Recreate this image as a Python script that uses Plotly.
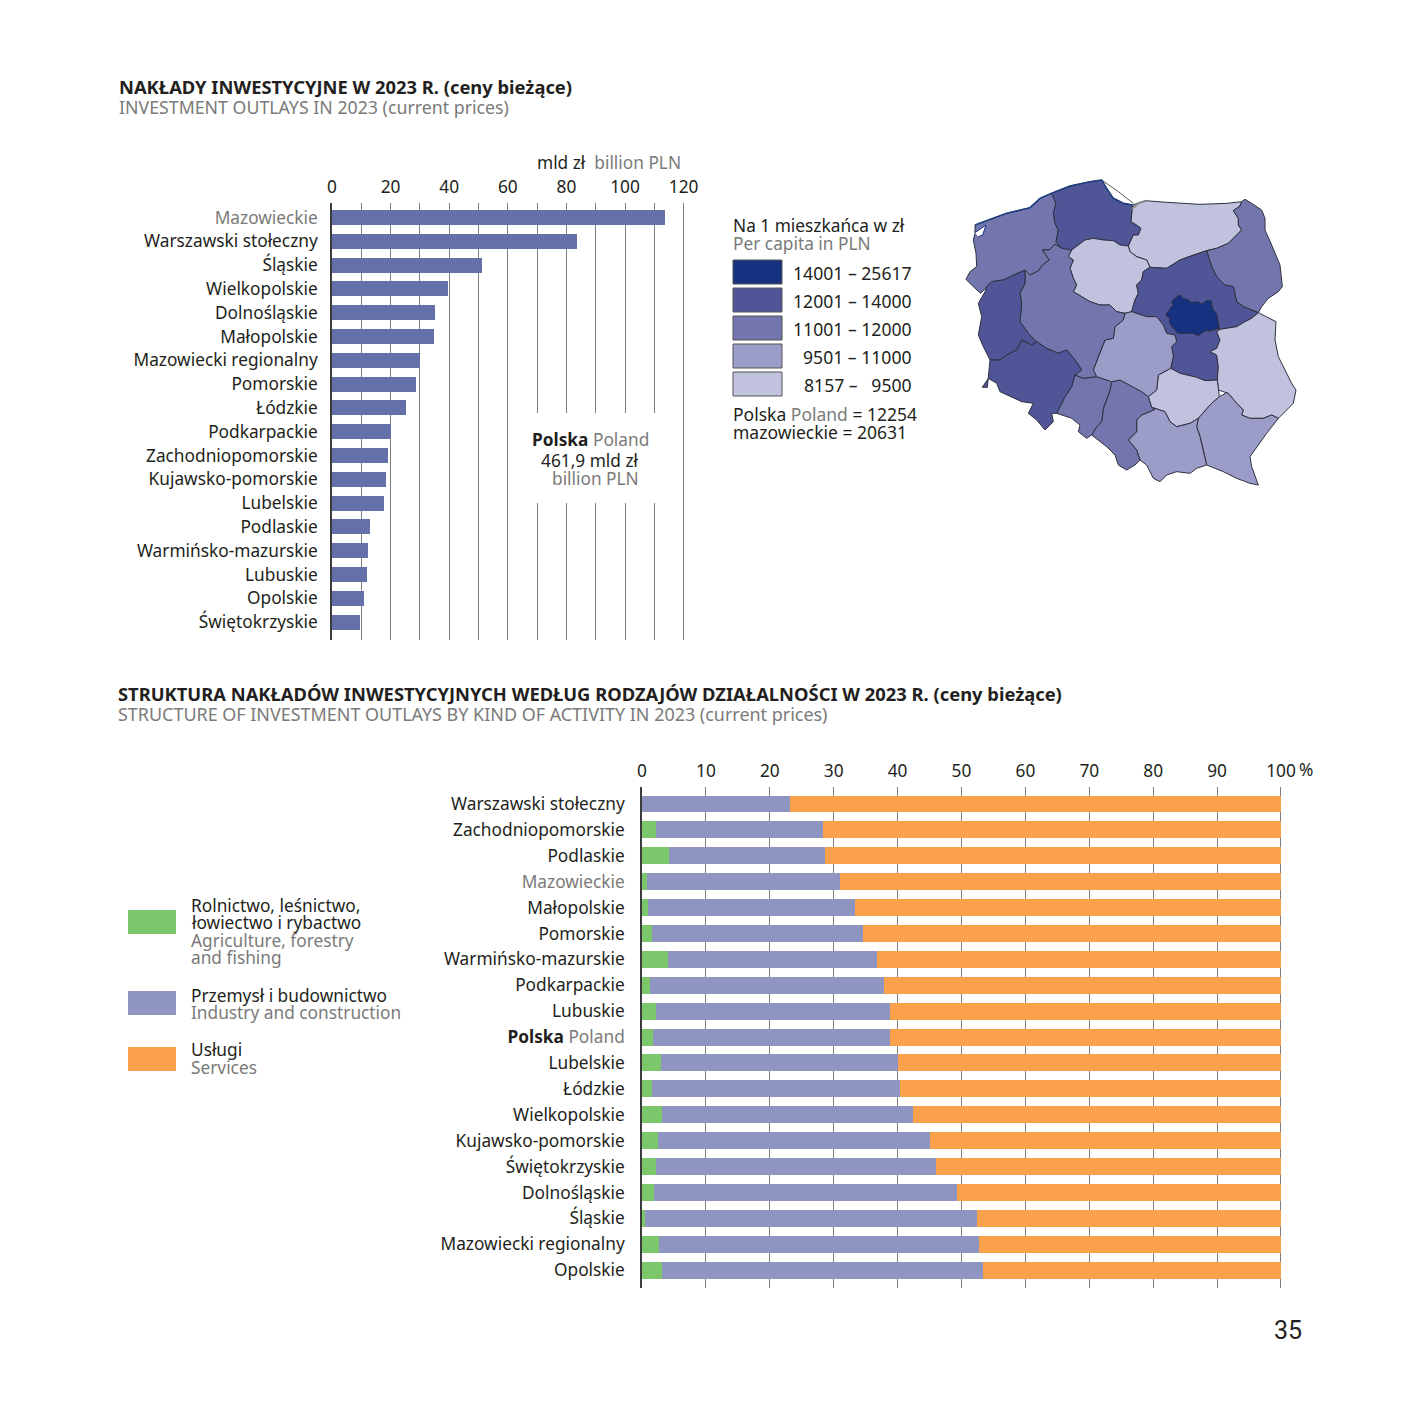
import plotly.graph_objects as go

# ---------- chart 1 data ----------
outlay_regions = ["Mazowieckie", "Warszawski stołeczny", "Śląskie", "Wielkopolskie", "Dolnośląskie", "Małopolskie",
                  "Mazowiecki regionalny", "Pomorskie", "Łódzkie", "Podkarpackie", "Zachodniopomorskie",
                  "Kujawsko-pomorskie", "Lubelskie", "Podlaskie", "Warmińsko-mazurskie", "Lubuskie", "Opolskie",
                  "Świętokrzyskie"]
outlay_values = [113.7, 83.5, 51.2, 39.7, 35.3, 34.9, 30.0, 28.7, 25.3, 20.2, 19.1, 18.5, 17.9, 13.0, 12.2, 11.8, 10.8, 9.6]
outlay_ticks = [0, 20, 40, 60, 80, 100, 120]

# ---------- chart 2 data ----------
struct_regions = ["Warszawski stołeczny", "Zachodniopomorskie", "Podlaskie", "Mazowieckie", "Małopolskie", "Pomorskie",
                  "Warmińsko-mazurskie", "Podkarpackie", "Lubuskie", "Polska", "Lubelskie", "Łódzkie", "Wielkopolskie",
                  "Kujawsko-pomorskie", "Świętokrzyskie", "Dolnośląskie", "Śląskie", "Mazowiecki regionalny", "Opolskie"]
agriculture = [0.05, 2.25, 4.2, 0.85, 1.0, 1.55, 4.1, 1.2, 2.15, 1.65, 3.0, 1.55, 3.1, 2.45, 2.15, 1.8, 0.5, 2.7, 3.2]
industry = [23.15, 26.0, 24.4, 30.15, 32.4, 33.05, 32.7, 36.7, 36.65, 37.15, 37.0, 38.75, 39.25, 42.55, 43.8, 47.45, 52.0, 50.0, 50.2]
services = [76.8, 71.75, 71.4, 69.0, 66.6, 65.4, 63.2, 62.1, 61.2, 61.2, 60.0, 59.7, 57.65, 55.0, 54.05, 50.75, 47.5, 47.3, 46.6]
struct_ticks = [0, 10, 20, 30, 40, 50, 60, 70, 80, 90, 100]

# ---------- map data ----------
class_colors = ["#16317f", "#4f5597", "#7276ac", "#9b9dc8", "#c1c3de"]
class_labels = ["14001 – 25617", "12001 – 14000", "11001 – 12000", "9501 – 11000", "8157 –\u00a0\u00a0\u00a09500"]

zachodniopomorskie = [(75,165),(120,148),(170,130),(240,113),(270,85),(305,70),(318,100),(310,130),(315,160),(325,180),(318,215),(335,235),(315,222),(298,240),(277,240),(298,270),(278,285),(265,303),(240,315),(225,300),(205,310),(180,320),(160,330),(125,335),(110,350),(92,370),(70,350),(48,328),(60,305),(80,290),(78,250),(70,210),(75,190)]
pomorskie = [(305,70),(360,48),(420,35),(455,30),(470,55),(490,85),(520,100),(548,105),(545,125),(543,155),(560,165),(573,175),(565,195),(550,195),(535,228),(510,225),(490,212),(460,210),(430,205),(405,210),(385,225),(365,240),(335,235),(318,215),(325,180),(315,160),(310,130),(318,100)]
warminsko = [(548,105),(585,92),(650,97),(750,103),(830,100),(875,95),(870,108),(850,122),(865,145),(865,165),(875,180),(860,195),(835,220),(800,235),(770,242),(730,255),(690,270),(650,295),(600,292),(590,270),(560,260),(540,245),(535,228),(550,195),(565,195),(573,175),(560,165),(543,155),(545,125)]
podlaskie = [(875,95),(885,88),(905,100),(935,120),(945,145),(945,180),(965,225),(990,285),(997,350),(985,365),(955,385),(935,410),(925,428),(880,410),(860,395),(850,350),(825,345),(800,320),(785,290),(770,242),(800,235),(835,220),(860,195),(875,180),(865,165),(865,145),(850,122),(870,108)]
kujawsko = [(365,240),(385,225),(405,210),(430,205),(460,210),(490,212),(510,225),(535,228),(540,245),(560,260),(590,270),(600,292),(580,305),(575,330),(560,345),(565,370),(555,390),(545,425),(525,430),(500,425),(480,405),(450,405),(420,395),(395,380),(370,365),(380,345),(370,325),(360,295),(370,270),(355,260)]
mazowiecki_reg = [(770,242),(785,290),(800,320),(825,345),(850,350),(860,395),(880,410),(925,428),(905,445),(885,455),(860,470),(810,478),(800,485),(810,510),(800,535),(780,545),(800,555),(805,590),(802,630),(765,632),(740,622),(690,610),(662,595),(670,560),(665,530),(680,515),(675,495),(650,490),(640,465),(620,440),(590,440),(545,425),(555,390),(565,370),(560,345),(575,330),(580,305),(600,292),(650,295),(690,270),(730,255)]
warszawski = [(648,430),(655,425),(662,412),(670,405),(665,395),(680,380),(690,375),(700,385),(715,390),(725,398),(745,395),(755,402),(770,392),(785,393),(785,405),(790,420),(800,430),(803,450),(808,475),(795,478),(780,483),(765,482),(755,490),(745,497),(730,490),(715,490),(700,490),(683,490),(672,475),(665,470),(658,455),(660,445),(650,438)]
lubelskie = [(925,428),(950,440),(978,455),(975,510),(985,560),(1005,600),(1025,640),(1038,660),(1030,700),(985,745),(965,735),(940,745),(900,745),(875,735),(880,720),(860,700),(835,670),(805,660),(802,630),(805,590),(800,555),(780,545),(800,535),(810,510),(800,485),(810,478),(860,470),(885,455),(905,445)]
swietokrzyskie = [(662,595),(690,610),(740,622),(765,632),(802,630),(805,660),(808,680),(780,705),(745,745),(720,760),(680,770),(660,755),(645,725),(605,712),(595,680),(620,660),(625,615)]
podkarpackie = [(745,745),(780,705),(808,680),(830,668),(835,670),(860,700),(880,720),(875,735),(900,745),(940,745),(965,735),(985,745),(950,790),(920,830),(900,860),(905,890),(925,945),(900,940),(860,925),(820,905),(770,885),(760,840),(750,800),(740,770)]
malopolskie = [(645,725),(660,755),(680,770),(720,760),(745,745),(740,770),(750,800),(760,840),(770,885),(740,895),(720,910),(680,905),(650,915),(630,935),(610,925),(590,885),(570,870),(560,840),(535,810),(560,785),(560,750),(575,735),(615,718),(605,712)]
slaskie = [(485,635),(510,630),(540,645),(575,665),(595,680),(605,712),(615,718),(575,735),(560,750),(560,785),(535,810),(560,840),(570,870),(555,885),(530,900),(505,885),(495,855),(470,830),(425,795),(440,770),(455,755),(460,715),(470,690),(480,660)]
opolskie = [(375,615),(400,625),(440,620),(485,635),(480,660),(470,690),(460,715),(455,755),(440,770),(425,795),(410,805),(385,785),(390,765),(365,745),(320,730),(335,700),(345,680),(365,650)]
lodzkie = [(525,430),(545,425),(590,440),(620,440),(640,465),(650,490),(675,495),(680,515),(665,530),(670,560),(662,595),(625,615),(620,660),(595,680),(575,665),(540,645),(510,630),(485,635),(440,620),(430,600),(445,560),(465,510),(490,505),(495,470),(520,450)]
wielkopolskie = [(335,235),(365,240),(355,260),(370,270),(360,295),(370,325),(380,345),(370,365),(395,380),(420,395),(450,405),(480,405),(500,425),(525,430),(520,450),(495,470),(490,505),(465,510),(445,560),(430,600),(440,620),(400,625),(375,615),(395,600),(375,570),(350,540),(325,550),(290,535),(260,515),(235,490),(210,455),(215,400),(210,370),(225,340),(225,300),(240,315),(265,303),(278,285),(298,270),(277,240),(298,240),(315,222)]
lubuskie = [(225,300),(225,340),(210,370),(215,400),(210,455),(235,490),(260,515),(245,525),(215,510),(200,540),(170,555),(150,570),(120,570),(100,530),(85,495),(95,440),(85,400),(105,365),(110,350),(125,335),(160,330),(180,320),(205,310)]
dolnoslaskie = [(120,570),(150,570),(170,555),(200,540),(215,510),(245,525),(260,515),(290,535),(325,550),(350,540),(375,570),(395,600),(375,615),(365,650),(345,680),(335,700),(320,730),(305,730),(310,755),(285,780),(260,750),(235,730),(250,700),(215,695),(185,680),(150,665),(140,640),(115,625),(97,652),(112,652)]
map_regions = [(zachodniopomorskie, 2), (pomorskie, 1), (warminsko, 4), (podlaskie, 2), (kujawsko, 4), (mazowiecki_reg, 1),
               (lubelskie, 4), (swietokrzyskie, 4), (podkarpackie, 3), (malopolskie, 3), (slaskie, 2), (opolskie, 2),
               (lodzkie, 3), (wielkopolskie, 2), (lubuskie, 1), (dolnoslaskie, 1), (warszawski, 0)]
hel_line = [(455,30),(505,65),(550,100)]
vistula_spit = [(545,118),(565,100),(590,92)]
coast_line = [(75,165),(120,148),(170,130),(240,113),(270,85),(305,70),(360,48),(420,35),(455,30),(470,55),(490,85),(520,100),(548,105)]
szczecin_lagoon = [(75,188),(108,165),(98,195),(85,200)]

FONT = "Noto Sans"
DARK = "#231f20"
GRAY = "#7a7a7a"
W = H = 1418

def px(x): return x / W
def py(y): return 1 - y / H

fig = go.Figure()

# chart 1
fig.add_trace(go.Bar(x=outlay_values, y=outlay_regions, orientation="h", marker=dict(color="#6570a8", line=dict(width=0)),
                     showlegend=False, xaxis="x", yaxis="y", width=0.63))

# chart 2
for name, vals, col in [("Rolnictwo", agriculture, "#7cc66c"), ("Przemysł", industry, "#8f95c1"), ("Usługi", services, "#fba14c")]:
    fig.add_trace(go.Bar(x=vals, y=struct_regions, orientation="h", name=name, marker=dict(color=col, line=dict(width=0)),
                         showlegend=False, xaxis="x2", yaxis="y2", width=0.655))

# map
for pts, cls in map_regions:
    fig.add_trace(go.Scatter(x=[p[0] for p in pts] + [pts[0][0]], y=[p[1] for p in pts] + [pts[0][1]], mode="lines", fill="toself",
                             fillcolor=class_colors[cls], line=dict(color="#2f3040", width=1), showlegend=False,
                             hoverinfo="skip", xaxis="x3", yaxis="y3"))
fig.add_trace(go.Scatter(x=[p[0] for p in szczecin_lagoon], y=[p[1] for p in szczecin_lagoon], mode="lines", fill="toself", fillcolor="white",
                         line=dict(color="#16317f", width=1), showlegend=False, hoverinfo="skip", xaxis="x3", yaxis="y3"))
for line_pts, col, wd in [(hel_line, "#555555", 1), (vistula_spit, "#888888", 2), (coast_line, "#1f3f7f", 1.6)]:
    fig.add_trace(go.Scatter(x=[p[0] for p in line_pts], y=[p[1] for p in line_pts], mode="lines", line=dict(color=col, width=wd),
                             showlegend=False, hoverinfo="skip", xaxis="x3", yaxis="y3"))

GRID = "#7d7d7d"
tickfont = dict(family=FONT, size=17.3, color=DARK)

def lab(c):
    if c == "Mazowieckie":
        return f"<span style='color:{GRAY}'>{c}</span>"
    if c == "Polska":
        return f"<b>Polska</b> <span style='color:{GRAY}'>Poland</span>"
    return c

fig.update_layout(
    width=W, height=H, margin=dict(l=0, r=0, t=0, b=0, autoexpand=False), paper_bgcolor="white", plot_bgcolor="white",
    barmode="stack", font=dict(family=FONT, color=DARK),
    xaxis=dict(domain=[px(332), px(685.1)], range=[0, 120.5], side="top", anchor="y", tickmode="array", tickvals=outlay_ticks,
               tickfont=tickfont, showgrid=True, gridcolor=GRID, gridwidth=1, zeroline=False, ticks="", showline=False, automargin=False,
               ticklabelstandoff=6, minor=dict(dtick=10, tick0=0, showgrid=True, gridcolor=GRID, gridwidth=1, ticks="")),
    yaxis=dict(domain=[py(640), py(203)], range=[17.75, -0.609], anchor="x", type="category", categoryorder="array",
               categoryarray=outlay_regions, tickmode="array", tickvals=outlay_regions, ticktext=[lab(c) for c in outlay_regions],
               tickfont=tickfont, showgrid=False, zeroline=False, ticks="", showline=True, linecolor="#3c3c3c", linewidth=1.5,
               ticklabelstandoff=9, automargin=False),
    xaxis2=dict(domain=[px(642), px(1282.9)], range=[0, 100.3], side="top", anchor="y2", tickmode="array", tickvals=struct_ticks,
                tickfont=tickfont, showgrid=True, gridcolor=GRID, gridwidth=1, zeroline=False, ticks="", ticklabelstandoff=6, automargin=False),
    yaxis2=dict(domain=[py(1288), py(787)], range=[18.69, -0.657], anchor="x2", type="category", categoryorder="array",
                categoryarray=struct_regions, tickmode="array", tickvals=struct_regions, ticktext=[lab(c) for c in struct_regions],
                tickfont=tickfont, showgrid=False, zeroline=False, ticks="", showline=True, linecolor="#3c3c3c", linewidth=1.5,
                ticklabelstandoff=12, automargin=False),
    xaxis3=dict(domain=[px(950), px(1310)], range=[0, 1080], visible=False, anchor="y3", automargin=False),
    yaxis3=dict(domain=[py(500), py(170)], range=[990, 0], visible=False, anchor="x3", automargin=False),
)

ann = []
def text(x, y, s, size=17.3, color=DARK, anchor="left", family=FONT):
    ann.append(dict(x=px(x), y=py(y), xref="paper", yref="paper", text=s, showarrow=False, xanchor=anchor, yanchor="middle",
                    font=dict(family=family, size=size, color=color), borderpad=0, borderwidth=0))

text(119, 86, "<b>NAKŁADY INWESTYCYJNE W 2023 R. (ceny bieżące)</b>", size=18.35)
text(119, 107, "INVESTMENT OUTLAYS IN 2023 (current prices)", color=GRAY, size=17.75)
text(681, 162, f"mld zł  <span style='color:{GRAY}'>billion PLN</span>", anchor="right")
text(590, 439, f"<b>Polska</b> <span style='color:{GRAY}'>Poland</span>", anchor="center")
text(590, 460.5, "461,9 mld zł", anchor="center")
text(595, 478.5, "billion PLN", color=GRAY, anchor="center")
text(733, 226, "Na 1 mieszkańca w zł")
text(733, 244, "Per capita in PLN", color=GRAY)
for lbl, yy in zip(class_labels, [273, 301, 329, 357, 385]):
    text(912, yy, lbl, size=17.6, anchor="right")
text(733, 414, f"Polska <span style='color:{GRAY}'>Poland</span> = 12254", size=17.5)
text(733, 432, "mazowieckie = 20631", size=17.5)
text(118, 693, "<b>STRUKTURA NAKŁADÓW INWESTYCYJNYCH WEDŁUG RODZAJÓW DZIAŁALNOŚCI W 2023 R. (ceny bieżące)</b>", size=18.35)
text(118, 714, "STRUCTURE OF INVESTMENT OUTLAYS BY KIND OF ACTIVITY IN 2023 (current prices)", color=GRAY, size=17.95)
text(1299, 769.5, "%")
for s, yy, c in [("Rolnictwo, leśnictwo,", 905, DARK), ("łowiectwo i rybactwo", 922, DARK), ("Agriculture, forestry", 940, GRAY),
                 ("and fishing", 958, GRAY), ("Przemysł i budownictwo", 995, DARK), ("Industry and construction", 1012, GRAY),
                 ("Usługi", 1049, DARK), ("Services", 1067, GRAY)]:
    text(191, yy, s, color=c)
text(1288, 1330, "35", size=25, anchor="center", family="Roboto")

shapes = [dict(type="rect", xref="x", yref="paper", x0=65, x1=115, y0=py(503), y1=py(413), fillcolor="white", line=dict(width=0), layer="above")]
for col, (y0, y1) in zip(class_colors, [(260, 284), (288, 312), (316, 340), (344, 368), (372, 396)]):
    shapes.append(dict(type="rect", xref="paper", yref="paper", x0=px(733), x1=px(782), y0=py(y1), y1=py(y0), fillcolor=col,
                       line=dict(color="#555", width=1)))
for col, (y0, y1) in zip(["#7cc66c", "#8f95c1", "#fba14c"], [(910, 934), (991, 1015), (1047, 1071)]):
    shapes.append(dict(type="rect", xref="paper", yref="paper", x0=px(128), x1=px(176), y0=py(y1), y1=py(y0), fillcolor=col, line=dict(width=0)))

fig.update_layout(annotations=ann, shapes=shapes)
fig.write_html("out.html", post_script="document.body.style.margin='0';", config=dict(displayModeBar=False))
